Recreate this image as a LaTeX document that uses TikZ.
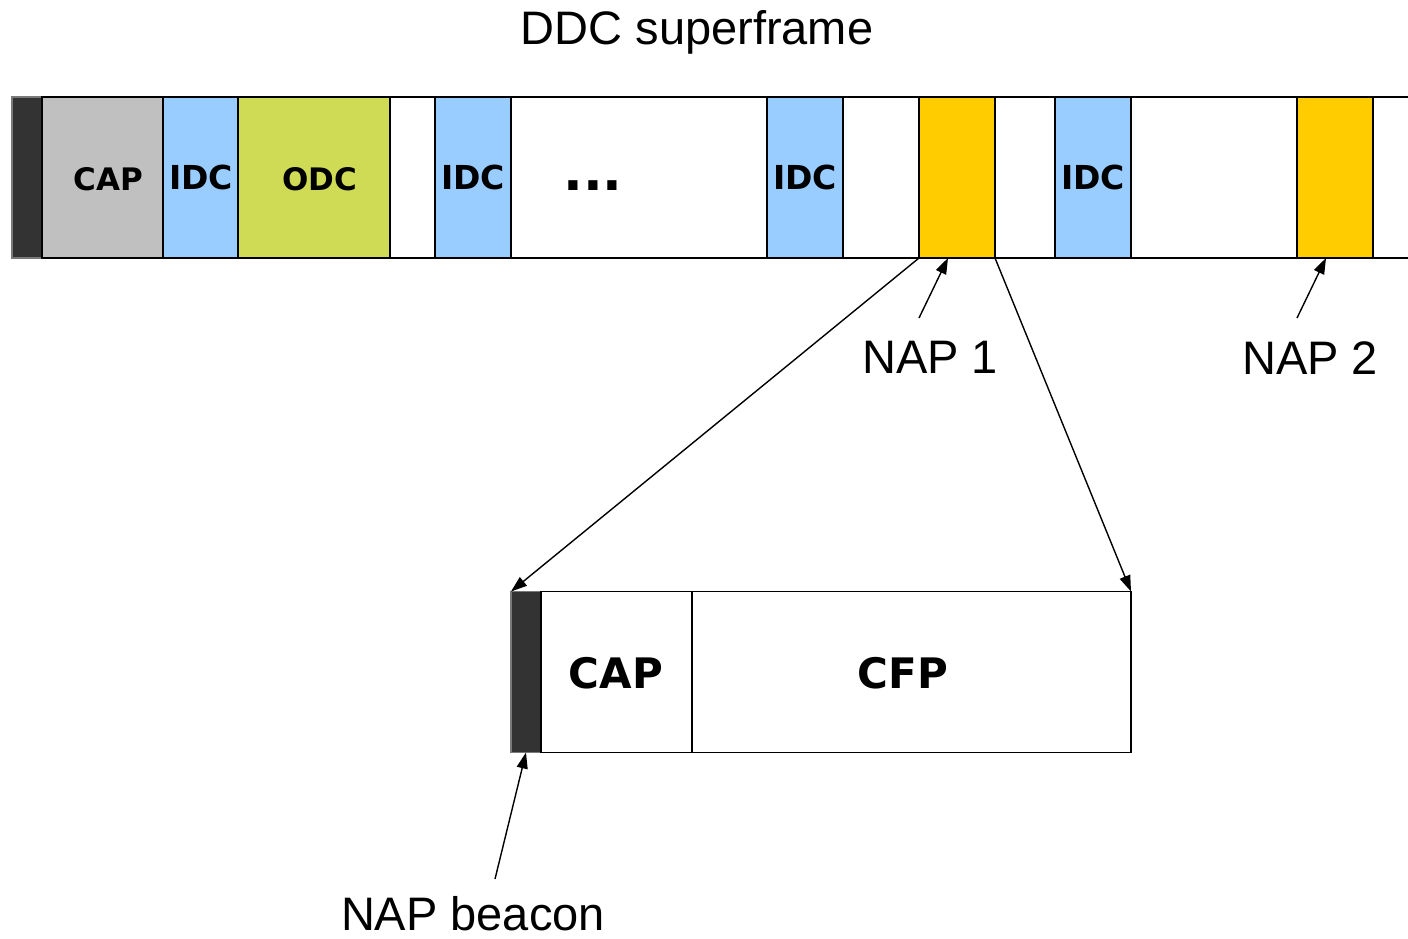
\documentclass[tikz,border=0pt]{standalone}
\usepackage{fontspec}
\setmainfont{Liberation Sans}
\newfontfamily\boxfont{DejaVu Sans}
\usetikzlibrary{arrows.meta}
\definecolor{beacondark}{HTML}{333333}
\definecolor{beaconedge}{HTML}{7A7A7A}
\definecolor{capgray}{HTML}{C0C0C0}
\definecolor{idcblue}{HTML}{99CCFF}
\definecolor{odcgreen}{HTML}{CFDB55}
\definecolor{napyellow}{HTML}{FFCC00}
\tikzset{
  slot/.style={draw=black, line width=1.6pt, inner sep=0pt, outer sep=0pt,
    minimum height=161pt, font=\boxfont\bfseries\fontsize{33}{33}\selectfont},
  beaconslot/.style={slot, fill=beacondark, draw=beaconedge},
  slottext/.style={inner sep=0pt, font=\boxfont\bfseries\fontsize{31}{31}\selectfont},
  bigtext/.style={inner sep=0pt, font=\boxfont\bfseries\fontsize{42}{42}\selectfont},
  label/.style={inner sep=0pt, anchor=base, font=\fontsize{47}{47}\selectfont},
  arr/.style={line width=1.4pt, -{Triangle[length=16pt,width=11pt]}},
}
\begin{document}
\begin{tikzpicture}[x=1pt,y=-1pt]
\useasboundingbox (0,0) rectangle (1408,939);

% title
\node[label] (title) at (697,45) {DDC superframe};

% superframe outline (runs off to the right)
\draw[line width=1.6pt] (42,97) -- (1408,97);
\draw[line width=1.6pt] (42,258) -- (1408,258);

% superframe slots
\node[beaconslot, minimum width=30pt] (sbeacon) at (27,177.5) {};
\node[slot, fill=capgray, minimum width=121pt] (scap) at (102.5,177.5) {};
\node[slottext] (scaptext) at (108,179) {CAP};
\node[slot, fill=idcblue, minimum width=75pt] (idc1) at (201,177.5) {IDC};
\node[slot, fill=odcgreen, minimum width=152pt] (odc) at (314,177.5) {};
\node[slottext] (odctext) at (320,179) {ODC};
\node[slot, fill=idcblue, minimum width=76pt] (idc2) at (473,177.5) {IDC};
\node[inner sep=0pt, font=\boxfont\bfseries\fontsize{52}{52}\selectfont] (dots) at (593,186) {...};
\node[slot, fill=idcblue, minimum width=76pt] (idc3) at (805,177.5) {IDC};
\node[slot, fill=napyellow, minimum width=76pt] (nap1) at (957,177.5) {};
\node[slot, fill=idcblue, minimum width=76pt] (idc4) at (1093,177.5) {IDC};
\node[slot, fill=napyellow, minimum width=76pt] (nap2) at (1335,177.5) {};

% expanded NAP
\node[beaconslot, minimum width=30pt] (nbeacon) at (526,672) {};
\node[slot, minimum width=151pt] (ncap) at (616.5,672) {};
\node[slot, minimum width=439pt] (ncfp) at (911.5,672) {};
\node[bigtext] (ncaptext) at (616,673) {CAP};
\node[bigtext] (ncfptext) at (903,673) {CFP};

% expansion lines
\draw[arr] (nap1.south west) -- (nbeacon.north west);
\draw[arr] (nap1.south east) -- (ncfp.north east);

% labels
\node[label] (lnap1) at (930,373) {NAP 1};
\node[label] (lnap2) at (1310,374) {NAP 2};
\node[label] (lbeacon) at (473,930) {NAP beacon};
\coordinate (t1) at (919,318);
\coordinate (t2) at (1297,318);
\coordinate (t3) at (495,879);
\draw[arr] (t1) -- ([xshift=-9pt]nap1.south);
\draw[arr] (t2) -- ([xshift=-9pt]nap2.south);
\draw[arr] (t3) -- (nbeacon.south);
\end{tikzpicture}
\end{document}
